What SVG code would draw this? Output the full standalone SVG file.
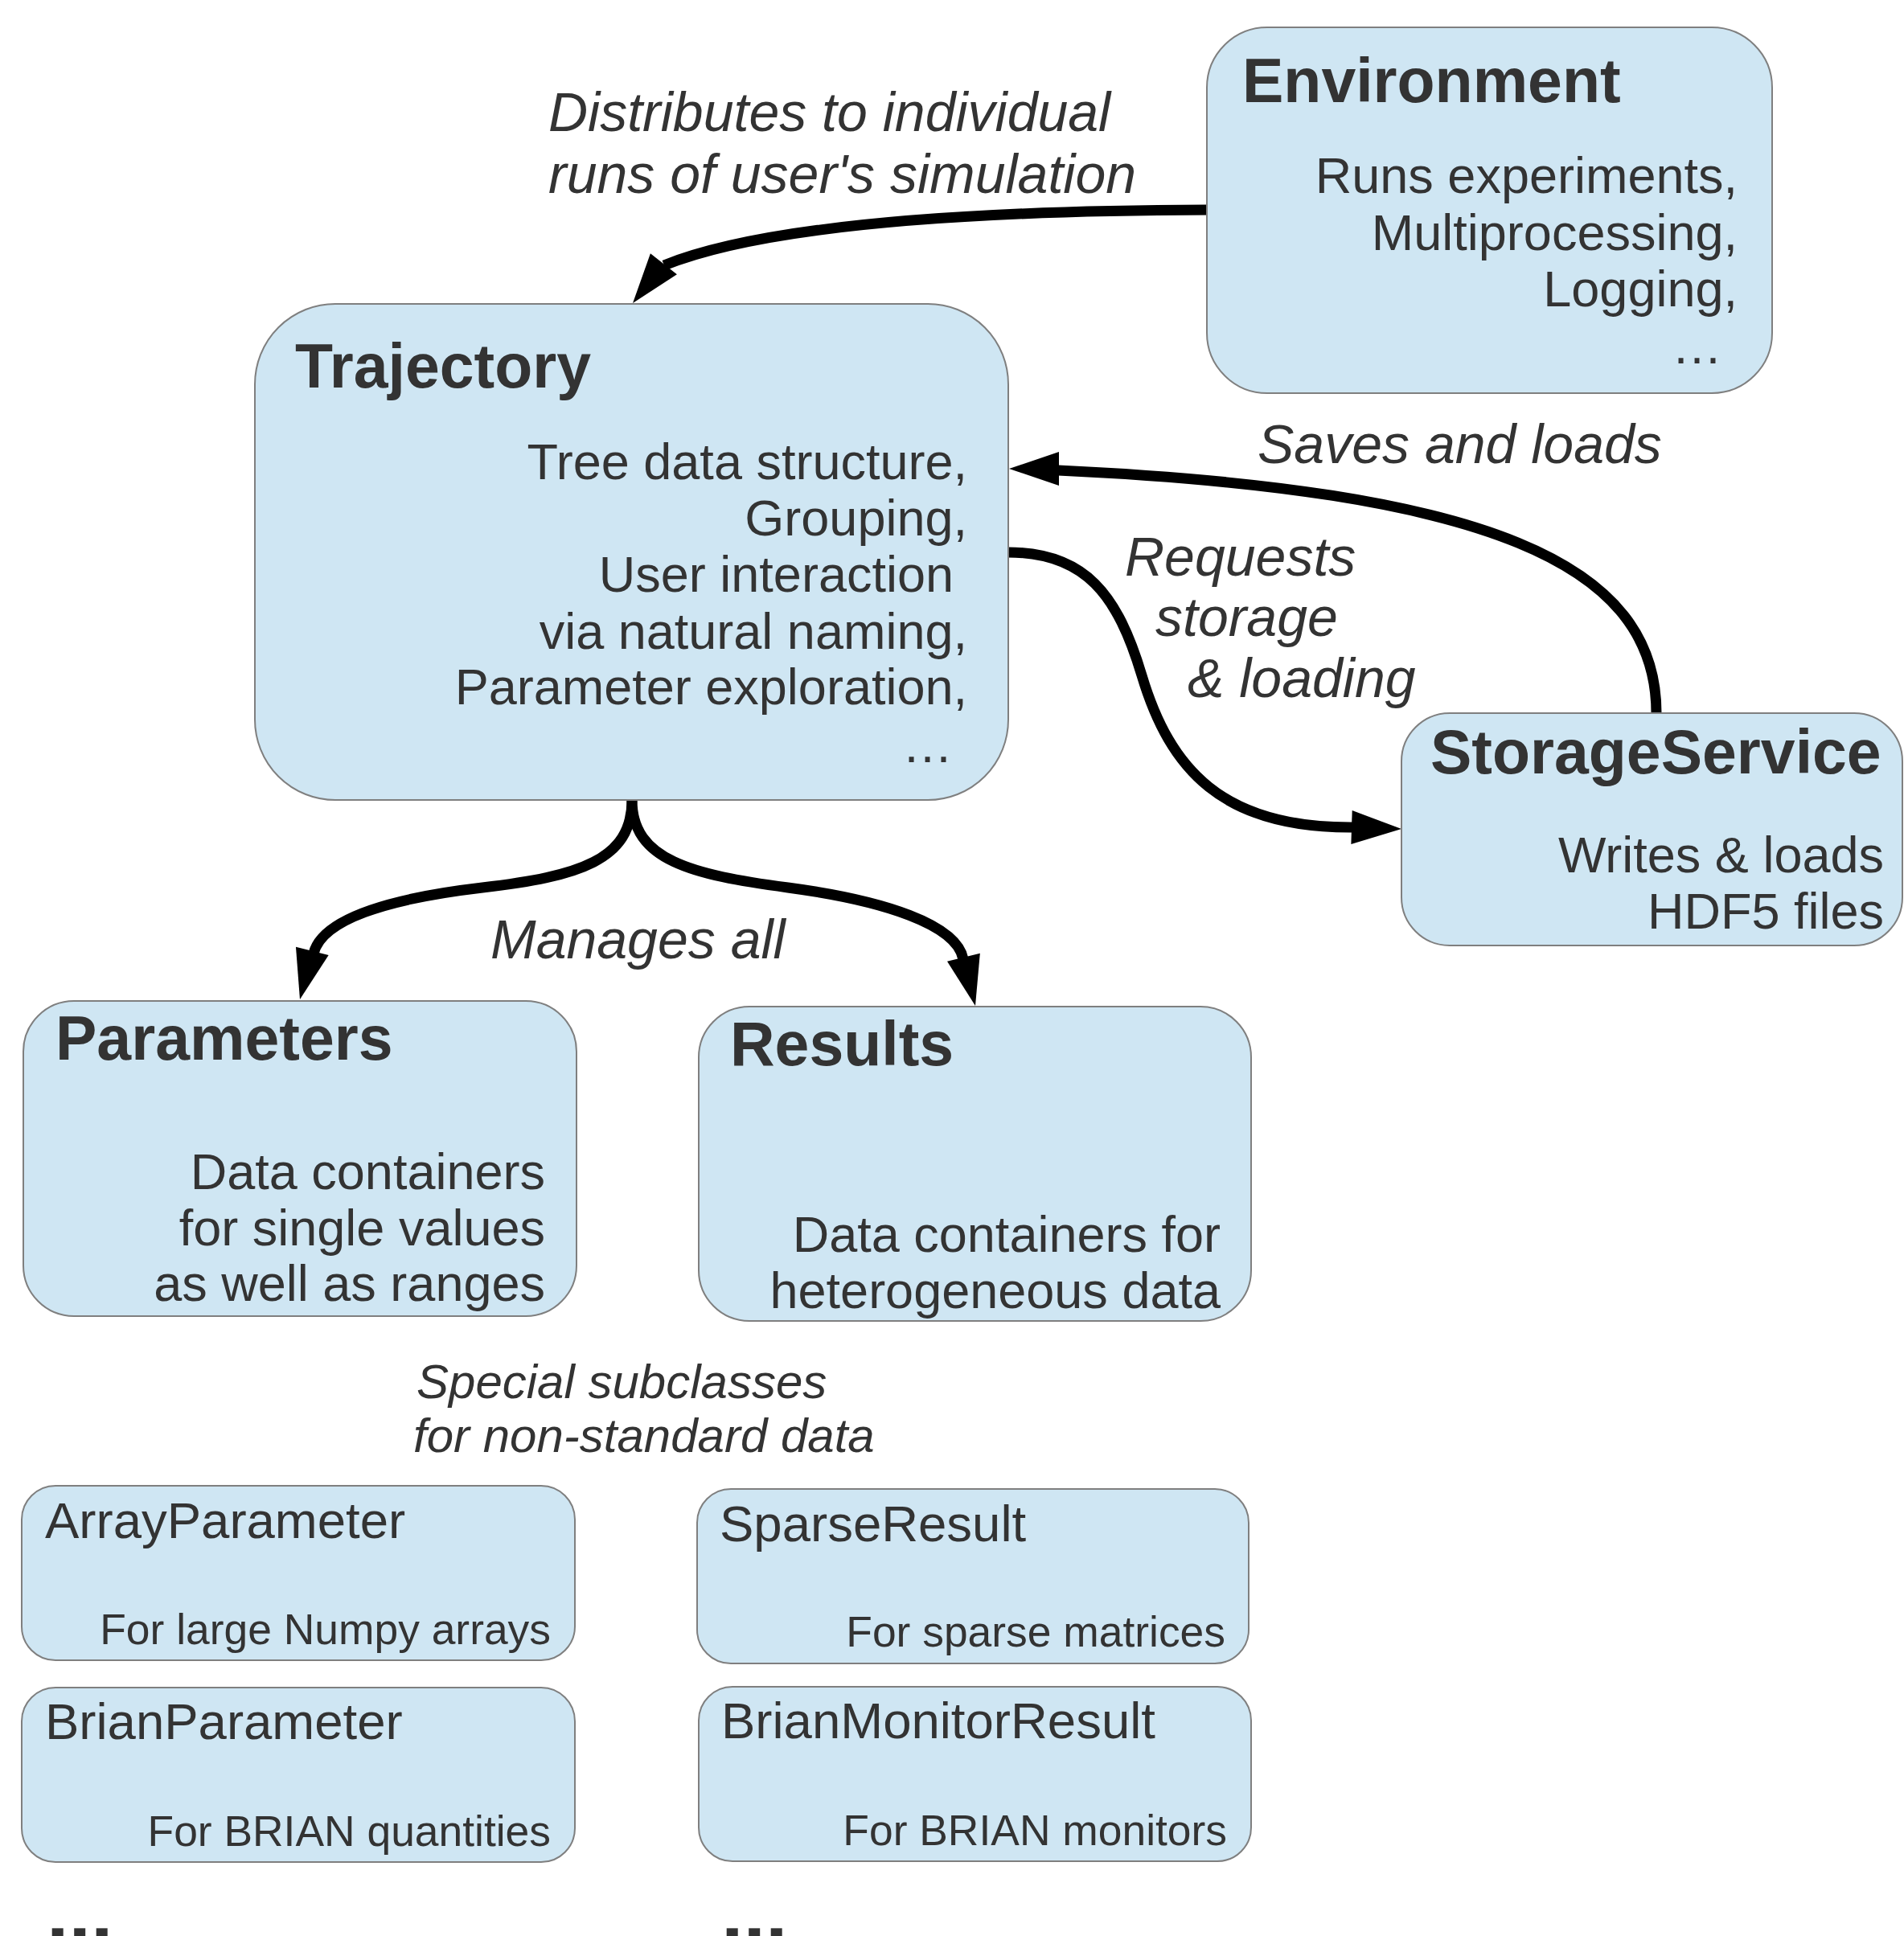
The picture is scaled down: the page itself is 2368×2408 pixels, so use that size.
<svg xmlns="http://www.w3.org/2000/svg" xmlns:xlink="http://www.w3.org/1999/xlink" width="2368" height="2408" viewBox="0 0 2368 2408">
<style>
  .box { fill: #cfe6f3; stroke: #7f7f7f; stroke-width: 2; }
  text { font-family: "Liberation Sans", Arial, sans-serif; fill: #333333; }
  .title { font-size: 77px; font-weight: bold; }
  .body { font-size: 63px; text-anchor: end; }
  .lbl { font-size: 68px; font-style: italic; }
  .sub-title { font-size: 63.5px; }
  .sub-body { font-size: 53.4px; text-anchor: end; }
  .lbl-small { font-size: 60px; font-style: italic; }
  .dots { font-size: 99px; font-weight: bold; }
  .conn { fill: none; stroke: #000000; stroke-width: 13; }
  .head { fill: #000000; }
</style>
<defs>
  <path id="ah" d="M0,0 L-62,-21 L-62,21 Z"/>
</defs>
<rect width="2368" height="2408" fill="#ffffff"/>

<g id="connectors">
  <path class="conn" d="M1502 261 C1200 262, 950 280, 826 330"/>
  <use xlink:href="#ah" class="head" transform="translate(787 377) rotate(128.3)"/>

  <path class="conn" d="M2060 887 C2060 700, 1850 610, 1316 585"/>
  <use xlink:href="#ah" class="head" transform="translate(1255 583) rotate(180)"/>

  <path class="conn" d="M1254 687 C1350 687, 1390 740, 1420 840 C1455 957, 1520 1030, 1682 1029"/>
  <use xlink:href="#ah" class="head" transform="translate(1743 1031) rotate(1.8)"/>

  <path class="conn" d="M786 995 C786 1070, 720 1090, 600 1104 C480 1118, 400 1144, 390 1186"/>
  <use xlink:href="#ah" class="head" transform="translate(373 1243) rotate(104.3)"/>

  <path class="conn" d="M786 995 C786 1070, 860 1088, 980 1104 C1100 1120, 1190 1150, 1198 1193"/>
  <use xlink:href="#ah" class="head" transform="translate(1213 1251) rotate(76.4)"/>
</g>

<g id="edge-labels">
  <text class="lbl" x="682" y="163">Distributes to individual</text>
  <text class="lbl" x="682" y="240">runs of user's simulation</text>
  <text class="lbl" x="1564" y="576">Saves and loads</text>
  <text class="lbl" x="1399" y="716">Requests</text>
  <text class="lbl" x="1437" y="791">storage</text>
  <text class="lbl" x="1477" y="867">&amp; loading</text>
  <text class="lbl" x="610" y="1192">Manages all</text>
  <text class="lbl-small" x="518" y="1739">Special subclasses</text>
  <text class="lbl-small" x="514" y="1806">for non-standard data</text>
</g>

<g id="environment">
  <rect class="box" x="1501" y="34" width="703" height="455" rx="75" ry="75"/>
  <text class="title" x="1545" y="127">Environment</text>
  <text class="body" x="2161" y="240">Runs experiments,</text>
  <text class="body" x="2161" y="311">Multiprocessing,</text>
  <text class="body" x="2161" y="381">Logging,</text>
  <text class="body" x="2142" y="452">…</text>
</g>

<g id="trajectory">
  <rect class="box" x="317" y="378" width="937" height="617" rx="100" ry="100"/>
  <text class="title" x="367" y="482">Trajectory</text>
  <text class="body" x="1203" y="596">Tree data structure,</text>
  <text class="body" x="1203" y="666">Grouping,</text>
  <text class="body" x="1186" y="736">User interaction</text>
  <text class="body" x="1203" y="807">via natural naming,</text>
  <text class="body" x="1203" y="876">Parameter exploration,</text>
  <text class="body" x="1185" y="948">…</text>
</g>

<g id="storageservice">
  <rect class="box" x="1743" y="887" width="623" height="289" rx="60" ry="60"/>
  <text class="title" x="1779" y="962">StorageService</text>
  <text class="body" x="2343" y="1085">Writes &amp; loads</text>
  <text class="body" x="2343" y="1155">HDF5 files</text>
</g>

<g id="parameters">
  <rect class="box" x="29" y="1245" width="688" height="392" rx="63" ry="63"/>
  <text class="title" x="69" y="1318">Parameters</text>
  <text class="body" x="678" y="1479">Data containers</text>
  <text class="body" x="678" y="1549">for single values</text>
  <text class="body" x="678" y="1618">as well as ranges</text>
</g>

<g id="results">
  <rect class="box" x="869" y="1252" width="687" height="391" rx="63" ry="63"/>
  <text class="title" x="908" y="1325">Results</text>
  <text class="body" x="1518" y="1557">Data containers for</text>
  <text class="body" x="1518" y="1627">heterogeneous data</text>
</g>

<g id="arrayparameter">
  <rect class="box" x="27" y="1848" width="688" height="217" rx="42" ry="42"/>
  <text class="sub-title" x="56" y="1913">ArrayParameter</text>
  <text class="sub-body" x="685" y="2045">For large Numpy arrays</text>
</g>

<g id="sparseresult">
  <rect class="box" x="867" y="1852" width="686" height="217" rx="42" ry="42"/>
  <text class="sub-title" x="895" y="1917">SparseResult</text>
  <text class="sub-body" x="1524" y="2048">For sparse matrices</text>
</g>

<g id="brianparameter">
  <rect class="box" x="27" y="2099" width="688" height="217" rx="42" ry="42"/>
  <text class="sub-title" x="56" y="2163">BrianParameter</text>
  <text class="sub-body" x="685" y="2296">For BRIAN quantities</text>
</g>

<g id="brianmonitorresult">
  <rect class="box" x="869" y="2098" width="687" height="217" rx="42" ry="42"/>
  <text class="sub-title" x="897" y="2162">BrianMonitorResult</text>
  <text class="sub-body" x="1526" y="2295">For BRIAN monitors</text>
</g>

<g id="more">
  <text class="dots" x="58" y="2413">...</text>
  <text class="dots" x="897" y="2413">...</text>
</g>
</svg>
